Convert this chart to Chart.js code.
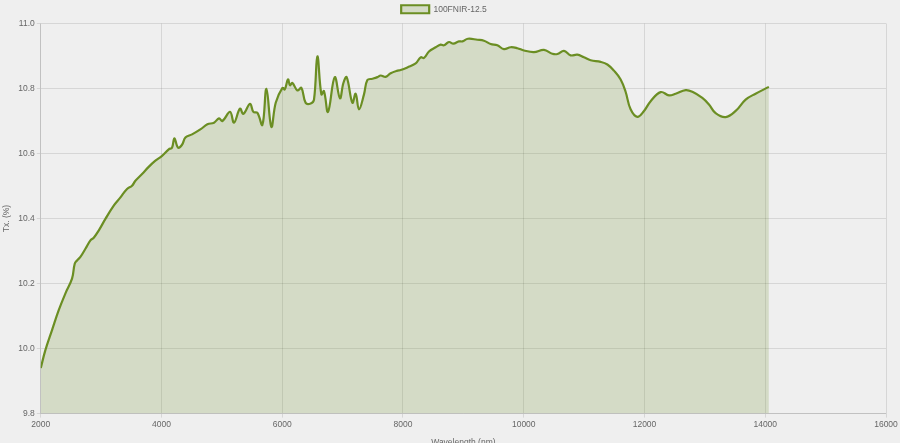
<!DOCTYPE html>
<html>
<head>
<meta charset="utf-8">
<script src="https://cdn.jsdelivr.net/npm/chart.js"></script>
<style>
  html, body { margin: 0; padding: 0; background: #efefef; overflow: hidden; }
  #wrap { width: 900px; height: 452px; }
</style>
</head>
<body>
<div id="wrap"><canvas id="myChart" width="900" height="452"></canvas></div>
<script>
// values
var seriesName = '100FNIR-12.5';
var wavelength = [2000, 2078, 2187, 2298, 2409, 2518, 2563, 2601, 2657, 2740, 2823, 2878, 2960, 3071, 3209, 3320, 3429, 3512, 3568, 3678, 3788, 3899, 4009, 4120, 4174, 4214, 4274, 4340, 4396, 4506, 4650,
  4760, 4870, 4953, 5009, 5135, 5201, 5300, 5357, 5466, 5522, 5589, 5671, 5738, 5820, 5892, 6003, 6041, 6095, 6128, 6168, 6251, 6317, 6388, 6471, 6526, 6582, 6648, 6691, 6758, 6869, 6956, 7013, 7067, 7162, 7216, 7271, 7354, 7410, 7493, 7576, 7630, 7713, 7796, 7907, 7962,
  8073, 8210, 8293, 8348, 8430, 8541, 8624, 8679, 8762, 8834, 8927, 8983, 9076, 9232, 9341, 9452, 9563, 9672, 9783, 9894, 10004, 10169, 10335, 10474, 10557, 10666, 10777, 10888, 10997, 11108, 11274, 11385, 11494, 11605, 11687, 11770, 11881, 11992,
  12102, 12268, 12406, 12516, 12682, 12793, 12958, 13068, 13178, 13344, 13510, 13675, 13840, 14060];
var tx = [9.940, 9.996, 10.057, 10.118, 10.170, 10.215, 10.261, 10.271, 10.282, 10.307, 10.333, 10.341, 10.363, 10.399, 10.440, 10.465, 10.491, 10.501, 10.516, 10.537, 10.559, 10.578, 10.593, 10.613, 10.618, 10.647, 10.618, 10.627, 10.649, 10.659, 10.675,
  10.690, 10.695, 10.708, 10.700, 10.728, 10.695, 10.738, 10.722, 10.753, 10.728, 10.725, 10.688, 10.799, 10.682, 10.756, 10.802, 10.797, 10.828, 10.810, 10.817, 10.794, 10.802, 10.756, 10.754, 10.766, 10.899, 10.782, 10.792, 10.728, 10.835, 10.770, 10.817, 10.835, 10.756, 10.784, 10.736, 10.782, 10.826, 10.830, 10.835, 10.840, 10.836, 10.847, 10.855, 10.857,
  10.865, 10.877, 10.896, 10.894, 10.914, 10.927, 10.935, 10.933, 10.943, 10.938, 10.945, 10.945, 10.953, 10.950, 10.947, 10.937, 10.933, 10.921, 10.927, 10.924, 10.917, 10.912, 10.919, 10.907, 10.906, 10.916, 10.902, 10.904, 10.896, 10.887, 10.882, 10.874, 10.855, 10.828, 10.790, 10.736, 10.713, 10.731,
  10.761, 10.789, 10.779, 10.784, 10.795, 10.790, 10.771, 10.751, 10.724, 10.712, 10.731, 10.766, 10.784, 10.805];
var xTicks = { min: 2000, max: 16000, step: 2000 };
var yTicks = { min: 9.8, max: 11.0, step: 0.2 };

var points = [];
for (var i = 0; i < wavelength.length; i++) {
  points.push({ x: wavelength[i], y: tx[i] });
}

Chart.defaults.font.family = "'Liberation Sans', Arial, sans-serif";
Chart.defaults.font.size = 8.5;
Chart.defaults.color = '#666';

const data = {
  datasets: [{
    label: seriesName,
    data: points,
    borderColor: 'rgb(107, 142, 35)',
    backgroundColor: 'rgba(107, 142, 35, 0.2)',
    borderWidth: 2.2,
    pointRadius: 0,
    tension: 0.4,
    fill: 'start'
  }]
};

const config = {
  type: 'line',
  data: data,
  options: {
    responsive: false,
    animation: false,
    layout: { padding: { left: 2, right: 14, top: 0 } },
    plugins: {
      legend: {
        labels: { boxWidth: 28, boxHeight: 8, padding: 5 }
      },
      tooltip: { enabled: false }
    },
    scales: {
      x: {
        type: 'linear',
        min: xTicks.min,
        max: xTicks.max,
        ticks: {
          stepSize: xTicks.step,
          padding: 2,
          callback: function (v) { return String(v); }
        },
        grid: { tickLength: 4 },
        title: { display: true, text: 'Wavelength (nm)', padding: { top: 6, bottom: 4 } }
      },
      y: {
        min: yTicks.min,
        max: yTicks.max,
        ticks: {
          stepSize: yTicks.step,
          padding: 2,
          callback: function (v) { return v.toFixed(1); }
        },
        grid: { tickLength: 4 },
        title: { display: true, text: 'Tx. (%)', padding: { top: 0, bottom: 4 } }
      }
    }
  }
};

const myChart = new Chart(document.getElementById('myChart'), config);
</script>
</body>
</html>
